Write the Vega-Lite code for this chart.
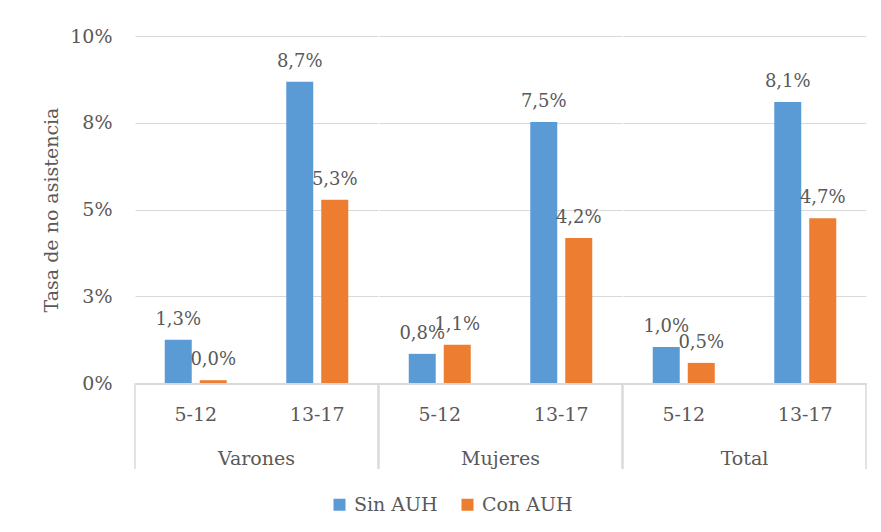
{
  "$schema": "https://vega.github.io/schema/vega-lite/v6.json",
  "padding": {"left": 42, "top": 27, "right": 10, "bottom": 5},
  "background": "white",
  "data": {"values": [
    {"sex": "Varones", "age": "5-12", "series": "Sin AUH", "value": 1.25, "label": "1,3%"},
    {"sex": "Varones", "age": "5-12", "series": "Con AUH", "value": 0.08, "label": "0,0%"},
    {"sex": "Varones", "age": "13-17", "series": "Sin AUH", "value": 8.68, "label": "8,7%"},
    {"sex": "Varones", "age": "13-17", "series": "Con AUH", "value": 5.28, "label": "5,3%"},
    {"sex": "Mujeres", "age": "5-12", "series": "Sin AUH", "value": 0.84, "label": "0,8%"},
    {"sex": "Mujeres", "age": "5-12", "series": "Con AUH", "value": 1.1, "label": "1,1%"},
    {"sex": "Mujeres", "age": "13-17", "series": "Sin AUH", "value": 7.52, "label": "7,5%"},
    {"sex": "Mujeres", "age": "13-17", "series": "Con AUH", "value": 4.18, "label": "4,2%"},
    {"sex": "Total", "age": "5-12", "series": "Sin AUH", "value": 1.04, "label": "1,0%"},
    {"sex": "Total", "age": "5-12", "series": "Con AUH", "value": 0.58, "label": "0,5%"},
    {"sex": "Total", "age": "13-17", "series": "Sin AUH", "value": 8.1, "label": "8,1%"},
    {"sex": "Total", "age": "13-17", "series": "Con AUH", "value": 4.75, "label": "4,7%"}
  ]},
  "facet": {
    "column": {
      "field": "sex", "type": "nominal", "sort": ["Varones", "Mujeres", "Total"],
      "header": {"title": null, "labelOrient": "bottom", "labelFont": "DejaVu Serif", "labelFontSize": 19, "labelColor": "#595959", "labelPadding": -20}
    }
  },
  "spacing": -1,
  "spec": {
    "width": 243,
    "height": 347,
    "layer": [
      {
        "mark": {"type": "bar"},
        "encoding": {
          "x": {"field": "age", "type": "nominal", "sort": ["5-12", "13-17"], "scale": {"paddingInner": 0, "paddingOuter": 0},
                "axis": {"title": null, "domain": true, "domainColor": "#D9D9D9", "ticks": false, "offset": -86,
                         "labelAngle": 0, "labelPadding": 21, "labelFontSize": 19, "labelColor": "#595959", "grid": false}},
          "xOffset": {"field": "series", "type": "nominal", "sort": ["Sin AUH", "Con AUH"], "scale": {"paddingInner": 0.2286, "paddingOuter": 0.85}},
          "y": {"field": "value", "type": "quantitative", "scale": {"domain": [0, 10], "nice": false},
                "axis": {"values": [0, 2.5, 5, 7.5, 10], "labelExpr": "round(datum.value) + '%'", "title": "Tasa de no asistencia", "domain": false, "ticks": false, "grid": true, "gridColor": "#D9D9D9", "labelPadding": 22, "titlePadding": 8, "labelFontSize": 19, "titleFontSize": 19, "labelColor": "#595959", "titleColor": "#595959", "titleFontWeight": "normal"}},
          "color": {"field": "series", "type": "nominal", "scale": {"domain": ["Sin AUH", "Con AUH"], "range": ["#5B9BD5", "#ED7D31"]},
                    "legend": {"title": null, "orient": "none", "direction": "horizontal", "legendX": 195, "legendY": 459, "symbolType": "square", "symbolSize": 144, "symbolStrokeWidth": 0, "labelFontSize": 19, "labelColor": "#595959", "labelFont": "DejaVu Serif", "columnPadding": 20, "labelOffset": 5}}
        }
      },
      {
        "mark": {"type": "text", "baseline": "alphabetic", "dy": -15, "fontSize": 18, "color": "#595959"},
        "encoding": {
          "x": {"field": "age", "type": "nominal", "sort": ["5-12", "13-17"]},
          "xOffset": {"field": "series", "type": "nominal", "sort": ["Sin AUH", "Con AUH"]},
          "y": {"field": "value", "type": "quantitative"},
          "text": {"field": "label"}
        }
      },
      {
        "transform": [{"filter": "datum.age == '5-12'"}],
        "mark": {"type": "rule", "color": "#D9D9D9", "strokeWidth": 1},
        "encoding": {
          "x": {"field": "age", "type": "nominal", "sort": ["5-12", "13-17"], "bandPosition": 0},
          "y": {"datum": 0},
          "y2": {"datum": -2.48}
        }
      },
      {
        "transform": [{"filter": "datum.age == '13-17'"}],
        "mark": {"type": "rule", "color": "#D9D9D9", "strokeWidth": 1},
        "encoding": {
          "x": {"field": "age", "type": "nominal", "sort": ["5-12", "13-17"], "bandPosition": 1},
          "y": {"datum": 0},
          "y2": {"datum": -2.48}
        }
      }
    ]
  },
  "config": {
    "font": "DejaVu Serif",
    "view": {"stroke": null}
  }
}
